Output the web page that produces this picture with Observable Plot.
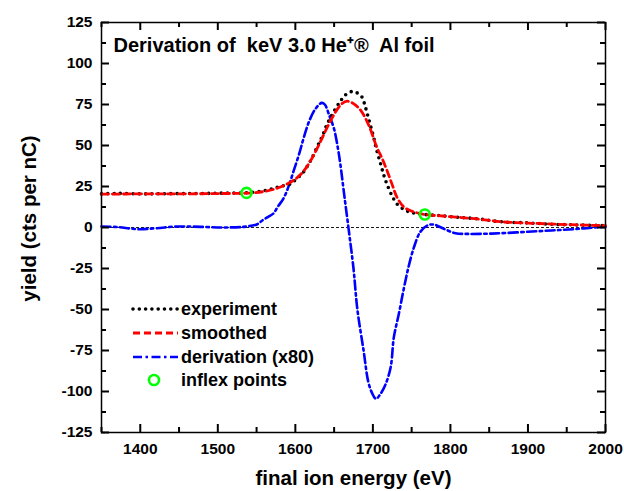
<!DOCTYPE html>
<html><head><meta charset="utf-8">
<script src="https://cdn.jsdelivr.net/npm/d3@7"></script>
<script src="https://cdn.jsdelivr.net/npm/@observablehq/plot@0.6"></script>
<style>
body{margin:0;background:#fff}
#c{position:relative;width:624px;height:491px}
#c svg{position:absolute;left:0;top:0}
</style>
</head><body><div id="c"></div>
<script>
// ---- data ----
const expE = [1350,1370,1400,1430,1460,1490,1510,1530,1545,1560,1570,1580,1594,1600,1610,1615,1620,1628,1635,1641,1650,1658,1665,1670,1675,1680,1686,1690,1693,1697,1701,1705,1710,1714,1718,1724,1731,1740,1748,1757,1767,1787,1810,1835,1865,1900,1930,1960,1993,2000];
const expV = [20.5,20.8,20.5,20.6,20.7,20.8,21.0,21.0,21.5,22.5,23.6,25,26.6,29,33.5,37,41,49,56,63,71,77,81,82.5,83,82,79.5,74,69,62,55,47,38.8,32,26.6,20,14.4,11,9.3,8.5,7.9,7.2,6.2,5.3,3.5,2.8,2,1.6,1.2,1.1];
const smoE = [1350,1400,1450,1500,1540,1560,1580,1600,1610,1620,1630,1640,1650,1660,1667,1675,1685,1695,1705,1712,1718,1725,1731,1740,1750,1767,1790,1835,1865,1900,1950,2000];
const smoV = [20.3,20.5,20.5,20.7,21,22,24.5,29.5,34,41,50,60,69,75.5,77,75.5,71,62,49,42,35,26,18.5,12.5,10,7.9,7,5.2,3.5,2.7,1.8,1.1];
const derE = [1350,1370,1396,1420,1447,1478,1507,1533,1545,1551,1558,1565,1572,1577,1585,1592,1598,1605,1611,1618,1626,1634,1638,1644,1650,1655,1658,1663,1669,1675,1680,1688,1694,1699,1704,1709,1716,1723,1727,1733.5,1740,1746,1753,1761,1770,1778.5,1791.5,1806.5,1822,1845,1865,1900,1930,1960,1993,2000];
const derV = [0.6,0.3,-1,-0.5,0.6,0.4,0,0.4,1.2,2,4.5,6.5,8.7,12.4,18,26,34.8,45,55,65,72.4,76,75,68,60,48,38.8,20,-2,-25,-50,-75,-94,-101,-104.5,-102,-96,-85,-67,-52.6,-37,-24,-12,-2.8,1.2,1.8,-0.8,-3.5,-3.9,-3.8,-3.5,-2.6,-1.8,-1,0.2,0.3];
const inflexE = [1537, 1767];
const inflexV = [21.1, 7.9];
const xMajor = [1400,1500,1600,1700,1800,1900,2000];
const xMinor = [1350,1450,1550,1650,1750,1850,1950];
const yMajor = [-125,-100,-75,-50,-25,0,25,50,75,100,125];
const yMinor = [-112.5,-87.5,-62.5,-37.5,-12.5,12.5,37.5,62.5,87.5,112.5];
const legendLabels = ["experiment","smoothed","derivation (x80)","inflex points"];
const titleText = "Derivation of  keV 3.0 He\u207A\u00AE  Al foil";
const xTitle = "final ion energy (eV)";
const yTitle = "yield (cts per nC)";

// ---- layout ----
const W = 624, H = 491, mL = 101, mR = 19, mT = 22, mB = 59;
const fw = W - mL - mR, fh = H - mT - mB;
const xDom = [1350, 2000], yDom = [-125, 125];
const FONT = "'Liberation Sans', Arial, Helvetica, sans-serif";
// tick lengths in pixels, converted to data units through the scale factors
const ux = (xDom[1] - xDom[0]) / fw, uy = (yDom[1] - yDom[0]) / fh;
const majL = 8, minL = 5;
const tk = {stroke: "#000", strokeWidth: 2};

const exp = expE.map((e,i)=>({e, v: expV[i]}));
const smo = smoE.map((e,i)=>({e, v: smoV[i]}));
const der = derE.map((e,i)=>({e, v: derV[i]}));
const inf = inflexE.map((e,i)=>({e, v: inflexV[i]}));

const plot = Plot.plot({
  width: W, height: H,
  marginLeft: mL, marginRight: mR, marginTop: mT, marginBottom: mB,
  style: {fontFamily: FONT, fontWeight: "bold", fontSize: "15.5px"},
  x: {domain: xDom},
  y: {domain: yDom},
  marks: [
    Plot.ruleY([0], {stroke: "#000", strokeWidth: 0.9, strokeDasharray: "3,2"}),
    Plot.line(der, {x: "e", y: "v", stroke: "#0000ff", strokeWidth: 2.6, strokeDasharray: "9,3.5,2.5,3.5", curve: "catmull-rom"}),
    Plot.line(exp, {x: "e", y: "v", stroke: "#000", strokeWidth: 3.6, strokeLinecap: "round", strokeDasharray: "0,6.3", curve: "catmull-rom"}),
    Plot.line(smo, {x: "e", y: "v", stroke: "#ff0000", strokeWidth: 2.8, strokeDasharray: "7,4", curve: "catmull-rom"}),
    Plot.dot(inf, {x: "e", y: "v", r: 5, stroke: "#00ff00", strokeWidth: 2.6, fill: "none"}),
    Plot.frame({stroke: "#000", strokeWidth: 1.5}),
    // inward ticks on all four sides
    Plot.ruleX(xMajor, {x: d => d, y1: yDom[0], y2: yDom[0] + majL * uy, ...tk}),
    Plot.ruleX(xMinor, {x: d => d, y1: yDom[0], y2: yDom[0] + minL * uy, ...tk}),
    Plot.ruleX(xMajor, {x: d => d, y1: yDom[1], y2: yDom[1] - majL * uy, ...tk}),
    Plot.ruleX(xMinor, {x: d => d, y1: yDom[1], y2: yDom[1] - minL * uy, ...tk}),
    Plot.ruleY(yMajor, {y: d => d, x1: xDom[0], x2: xDom[0] + majL * ux, ...tk}),
    Plot.ruleY(yMinor, {y: d => d, x1: xDom[0], x2: xDom[0] + minL * ux, ...tk}),
    Plot.ruleY(yMajor, {y: d => d, x1: xDom[1], x2: xDom[1] - majL * ux, ...tk}),
    Plot.ruleY(yMinor, {y: d => d, x1: xDom[1], x2: xDom[1] - minL * ux, ...tk}),
    Plot.axisX(xMajor, {anchor: "bottom", tickSize: 0, tickPadding: 10, label: null, tickFormat: d => String(d), fontSize: 15.5, fontWeight: "bold"}),
    Plot.axisY(yMajor, {anchor: "left", tickSize: 0, tickPadding: 9, label: null, tickFormat: d => String(d), fontSize: 15.5, fontWeight: "bold"}),
    Plot.text([xTitle], {frameAnchor: "bottom", dy: 46, text: d => d, fontSize: 20.5, fontWeight: "bold", lineAnchor: "middle", textAnchor: "middle"}),
    Plot.text([yTitle], {frameAnchor: "left", dx: -72, dy: -9, rotate: -90, text: d => d, fontSize: 20.5, fontWeight: "bold", lineAnchor: "middle", textAnchor: "middle"}),
    Plot.text([titleText], {frameAnchor: "top-left", dx: 12, dy: 23, text: d => d, fontSize: 20, fontWeight: "bold", lineAnchor: "middle", textAnchor: "start"})
  ]
});
const c = document.getElementById("c");
c.appendChild(plot);

// ---- legend overlay ----
const lg = d3.select(c).append("svg").attr("width", W).attr("height", H).style("pointer-events", "none");
const styles = [
  {stroke: "#000", w: 3.6, dash: "0,6.3", cap: "round"},
  {stroke: "#ff0000", w: 2.8, dash: "7,4", cap: "butt"},
  {stroke: "#0000ff", w: 2.6, dash: "9,3.5,2.5,3.5", cap: "butt"},
  null
];
const rowY = [309, 333, 357, 380];
legendLabels.forEach((lab, i) => {
  const y = rowY[i];
  if (styles[i]) {
    const s = styles[i];
    lg.append("line").attr("x1", 133).attr("x2", 178).attr("y1", y).attr("y2", y)
      .attr("stroke", s.stroke).attr("stroke-width", s.w).attr("stroke-dasharray", s.dash).attr("stroke-linecap", s.cap);
  } else {
    lg.append("circle").attr("cx", 154).attr("cy", y).attr("r", 5).attr("fill", "none")
      .attr("stroke", "#00ff00").attr("stroke-width", 2.6);
  }
  lg.append("text").attr("x", 181).attr("y", y).attr("dy", "0.35em")
    .attr("font-family", FONT).attr("font-weight", "bold").attr("font-size", 18).text(lab);
});
</script>
</body></html>
